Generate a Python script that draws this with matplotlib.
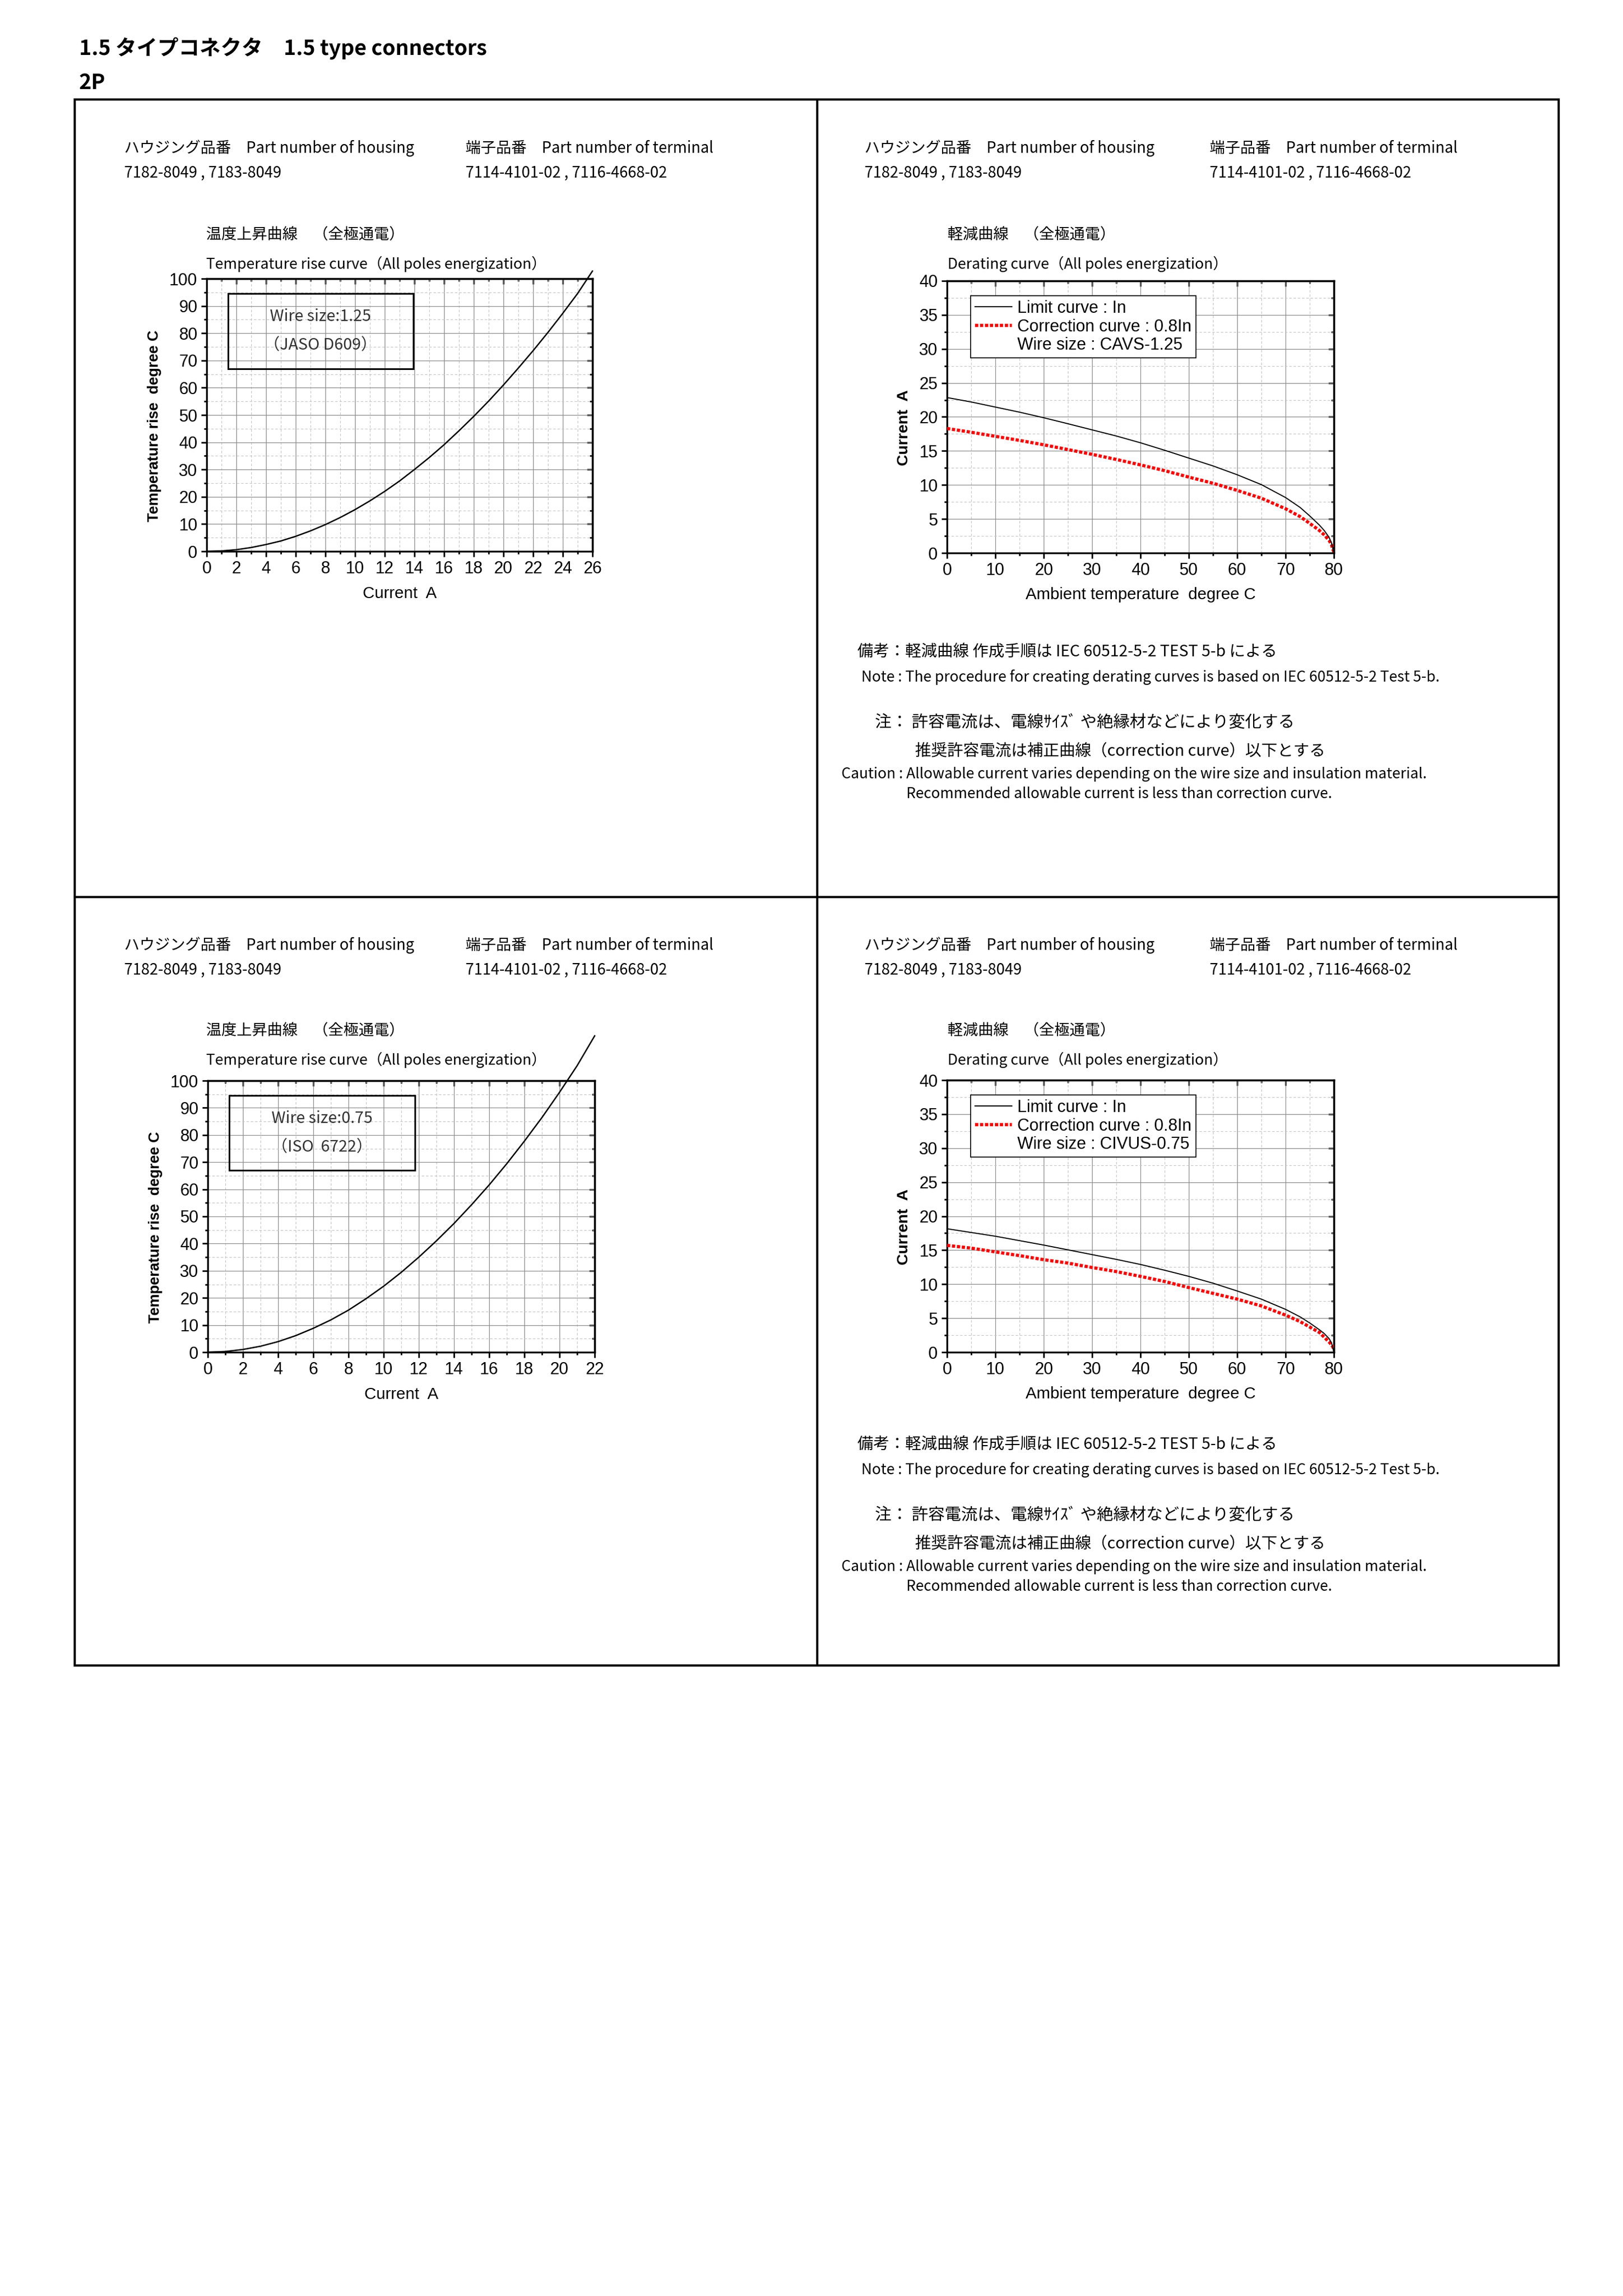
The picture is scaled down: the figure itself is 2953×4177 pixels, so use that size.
import matplotlib
matplotlib.use("Agg")
import matplotlib.pyplot as plt
from matplotlib.patches import Rectangle
from matplotlib.lines import Line2D
from matplotlib.ticker import MultipleLocator

# ---- data ----
# temperature rise, wire 1.25 (JASO D609)
cur_125 = [0, 1, 2, 3, 4, 5, 6, 7, 8, 9, 10, 11, 12, 13, 14, 15, 16, 17, 18, 19, 20, 21, 22, 23, 24, 25, 26]
rise_125 = [0, 0.15, 0.6, 1.4, 2.5, 3.8, 5.5, 7.5, 9.8, 12.4, 15.3, 18.5, 22.0, 25.8, 30.0, 34.4,
            39.1, 44.2, 49.5, 55.1, 61.0, 67.2, 73.6, 80.3, 87.3, 94.6, 102.8]
# temperature rise, wire 0.75 (ISO 6722)
cur_075 = [0, 1, 2, 3, 4, 5, 6, 7, 8, 9, 10, 11, 12, 13, 14, 15, 16, 17, 18, 19, 20, 21, 22]
rise_075 = [0, 0.25, 1.0, 2.2, 3.9, 6.1, 8.8, 11.9, 15.5, 19.7, 24.3, 29.4, 35.0, 41.0, 47.4, 54.3,
            61.6, 69.4, 77.7, 86.4, 95.7, 105.5, 116.5]

# derating curves
amb = [0, 5, 10, 15, 20, 25, 30, 35, 40, 45, 50, 55, 60, 65, 70, 73, 75, 77, 78, 79, 79.5, 80]
limit_125 = [22.85, 22.2, 21.45, 20.7, 19.88, 19.0, 18.1, 17.2, 16.2, 15.1, 13.95, 12.8, 11.5, 10.05,
             8.15, 6.7, 5.45, 4.1, 3.3, 2.3, 1.5, 0]
corr_125 = [18.3, 17.75, 17.15, 16.55, 15.9, 15.2, 14.5, 13.75, 12.95, 12.1, 11.15, 10.25, 9.2, 8.05,
            6.5, 5.35, 4.35, 3.3, 2.65, 1.85, 1.2, 0.1]
limit_075 = [18.15, 17.6, 17.05, 16.4, 15.75, 15.05, 14.35, 13.65, 12.9, 12.05, 11.15, 10.15, 9.0, 7.8,
             6.3, 5.2, 4.3, 3.3, 2.75, 2.0, 1.4, 0]
corr_075 = [15.7, 15.3, 14.75, 14.2, 13.6, 13.1, 12.45, 11.85, 11.15, 10.4, 9.5, 8.65, 7.8, 6.8,
            5.45, 4.5, 3.7, 2.9, 2.2, 1.5, 1.1, 0.5]

housing_no = "7182-8049 , 7183-8049"
terminal_no = "7114-4101-02 , 7116-4668-02"

W, H = 2953, 4177
JP = ["Noto Sans CJK JP", "DejaVu Sans"]
plt.rcParams["font.family"] = ["Liberation Sans", "DejaVu Sans"]

fig = plt.figure(figsize=(W / 100, H / 100), dpi=100)


def fx(px):
    return px / W


def fy(py):
    return 1 - py / H


def rect(l, t, r, b):
    return [l / W, 1 - b / H, (r - l) / W, (b - t) / H]


def jtext(x, y, s, size=20, **kw):
    fig.text(fx(x), fy(y), s, fontsize=size, family=JP, va="center", ha="left", **kw)


def style_axes(ax, xmax, xmaj, xmin, ymax, ymaj, ymin):
    ax.set_xlim(0, xmax)
    ax.set_ylim(0, ymax)
    ax.xaxis.set_major_locator(MultipleLocator(xmaj))
    ax.xaxis.set_minor_locator(MultipleLocator(xmin))
    ax.yaxis.set_major_locator(MultipleLocator(ymaj))
    ax.yaxis.set_minor_locator(MultipleLocator(ymin))
    ax.grid(which="major", color="#8c8c8c", lw=0.9, ls="-")
    ax.grid(which="minor", color="#c4c4c4", lw=0.8, ls=(0, (4, 3)))
    ax.set_axisbelow(True)
    for s in ax.spines.values():
        s.set_linewidth(2.4)
    ax.tick_params(which="major", direction="out", length=7, width=2, labelsize=22, pad=5)
    ax.tick_params(which="minor", direction="out", length=3.6, width=2)
    # top / right ticks point inward
    secx = ax.secondary_xaxis("top")
    secx.xaxis.set_major_locator(MultipleLocator(xmaj))
    secx.xaxis.set_minor_locator(MultipleLocator(xmin))
    secx.tick_params(which="major", direction="in", length=7, width=2, labeltop=False)
    secx.tick_params(which="minor", direction="in", length=3.6, width=2)
    secx.spines["top"].set_linewidth(2.4)
    secy = ax.secondary_yaxis("right")
    secy.yaxis.set_major_locator(MultipleLocator(ymaj))
    secy.yaxis.set_minor_locator(MultipleLocator(ymin))
    secy.tick_params(which="major", direction="in", length=7, width=2, labelright=False)
    secy.tick_params(which="minor", direction="in", length=3.6, width=2)
    secy.spines["right"].set_linewidth(2.4)


def header(x0, x1, y0):
    jtext(x0, y0, "ハウジング品番　Part number of housing")
    jtext(x0, y0 + 45, housing_no)
    jtext(x1, y0, "端子品番　Part number of terminal")
    jtext(x1, y0 + 45, terminal_no)


def temp_panel(box, cur, rise, xmax, wire1, wire2, dy):
    ax = fig.add_axes(rect(*box))
    style_axes(ax, xmax, 2, 1, 100, 10, 5)
    ax.plot(cur, rise, color="black", lw=1.8, clip_on=False, zorder=5)
    ax.set_xlabel("Current  A", fontsize=21.5)
    ax.set_ylabel("Temperature rise  degree C", fontsize=19.5, fontweight="bold")
    ax.xaxis.set_label_coords(0.5, -0.127)
    ax.yaxis.set_label_coords(-0.117, 0.46)
    # wire size note box
    ax.add_patch(Rectangle((0.056, 0.67), 0.48, 0.275, transform=ax.transAxes,
                           fill=False, ec="black", lw=2.2, zorder=6))
    ax.text(0.295, 0.86, wire1, transform=ax.transAxes, family=JP, fontsize=21,
            color="#333333", ha="center", va="center", zorder=7)
    ax.text(0.295, 0.755, wire2, transform=ax.transAxes, family=JP, fontsize=21,
            color="#333333", ha="center", va="center", zorder=7)
    jtext(375, 427 + dy, "温度上昇曲線　（全極通電）")
    jtext(375, 480 + dy, "Temperature rise curve（All poles energization）", size=19.5)
    return ax


def derate_panel(box, limit, corr, wire, dy):
    ax = fig.add_axes(rect(*box))
    style_axes(ax, 80, 10, 5, 40, 5, 2.5)
    l1, = ax.plot(amb, limit, color="black", lw=1.4, zorder=5)
    l2, = ax.plot(amb, corr, color="#ff0000", lw=4.2, ls=(0, (1, 0.55)), zorder=4)
    blank = Line2D([], [], color="none")
    leg = ax.legend([l1, l2, blank],
                    ["Limit curve : In", "Correction curve : 0.8In", "Wire size : " + wire],
                    loc="upper left", bbox_to_anchor=(0.061, 0.945), borderaxespad=0,
                    fancybox=False, edgecolor="black", framealpha=1, handlelength=2.2,
                    handletextpad=0.35, labelspacing=0.12, borderpad=0.25,
                    prop={"family": "Liberation Sans", "size": 22})
    leg.get_frame().set_linewidth(1.2)
    ax.set_xlabel("Ambient temperature  degree C", fontsize=21.5)
    ax.set_ylabel("Current  A", fontsize=20.5, fontweight="bold")
    ax.xaxis.set_label_coords(0.5, -0.125)
    ax.yaxis.set_label_coords(-0.092, 0.46)
    jtext(1724, 427 + dy, "軽減曲線　（全極通電）")
    jtext(1724, 480 + dy, "Derating curve（All poles energization）", size=19.5)
    return ax


def notes(dy):
    jtext(1560, 1187 + dy, "備考：軽減曲線 作成手順は IEC 60512-5-2 TEST 5-b による", size=20.9)
    jtext(1567, 1232 + dy, "Note : The procedure for creating derating curves is based on IEC 60512-5-2 Test 5-b.", size=19.4)
    jtext(1592, 1315 + dy, "注： 許容電流は、電線ｻｲｽﾞ や絶縁材などにより変化する", size=21.6)
    jtext(1665, 1367 + dy, "推奨許容電流は補正曲線（correction curve）以下とする", size=21)
    jtext(1531, 1408 + dy, "Caution : Allowable current varies depending on the wire size and insulation material.", size=19.3)
    jtext(1649, 1445 + dy, "Recommended allowable current is less than correction curve.", size=19.2)


# page title
jtext(144, 88, "1.5 タイプコネクタ　1.5 type connectors", size=27.5, fontweight="bold")
jtext(144, 150, "2P", size=27.5, fontweight="bold")

# panel frame
for xs, ys in [((136, 2836), (181, 181)), ((136, 2836), (3030, 3030)),
               ((136, 136), (181, 3030)), ((2836, 2836), (181, 3030)),
               ((1487, 1487), (181, 3030)), ((136, 2836), (1632, 1632))]:
    fig.add_artist(Line2D([fx(v) for v in xs], [fy(v) for v in ys], color="black",
                          lw=2.9, transform=fig.transFigure))

header(226, 847, 270)
header(1573, 2201, 270)
header(226, 847, 1720)
header(1573, 2201, 1720)

temp_panel((376, 507, 1078, 1003), cur_125, rise_125, 26, "Wire size:1.25", "（JASO D609）", 0)
temp_panel((378, 1966, 1082, 2460), cur_075, rise_075, 22, "Wire size:0.75", "（ISO  6722）", 1448)
derate_panel((1723, 511, 2427, 1006), limit_125, corr_125, "CAVS-1.25", 0)
derate_panel((1723, 1965, 2427, 2460), limit_075, corr_075, "CIVUS-0.75", 1448)

notes(0)
notes(1442)

fig.savefig("out.png", dpi=100)
